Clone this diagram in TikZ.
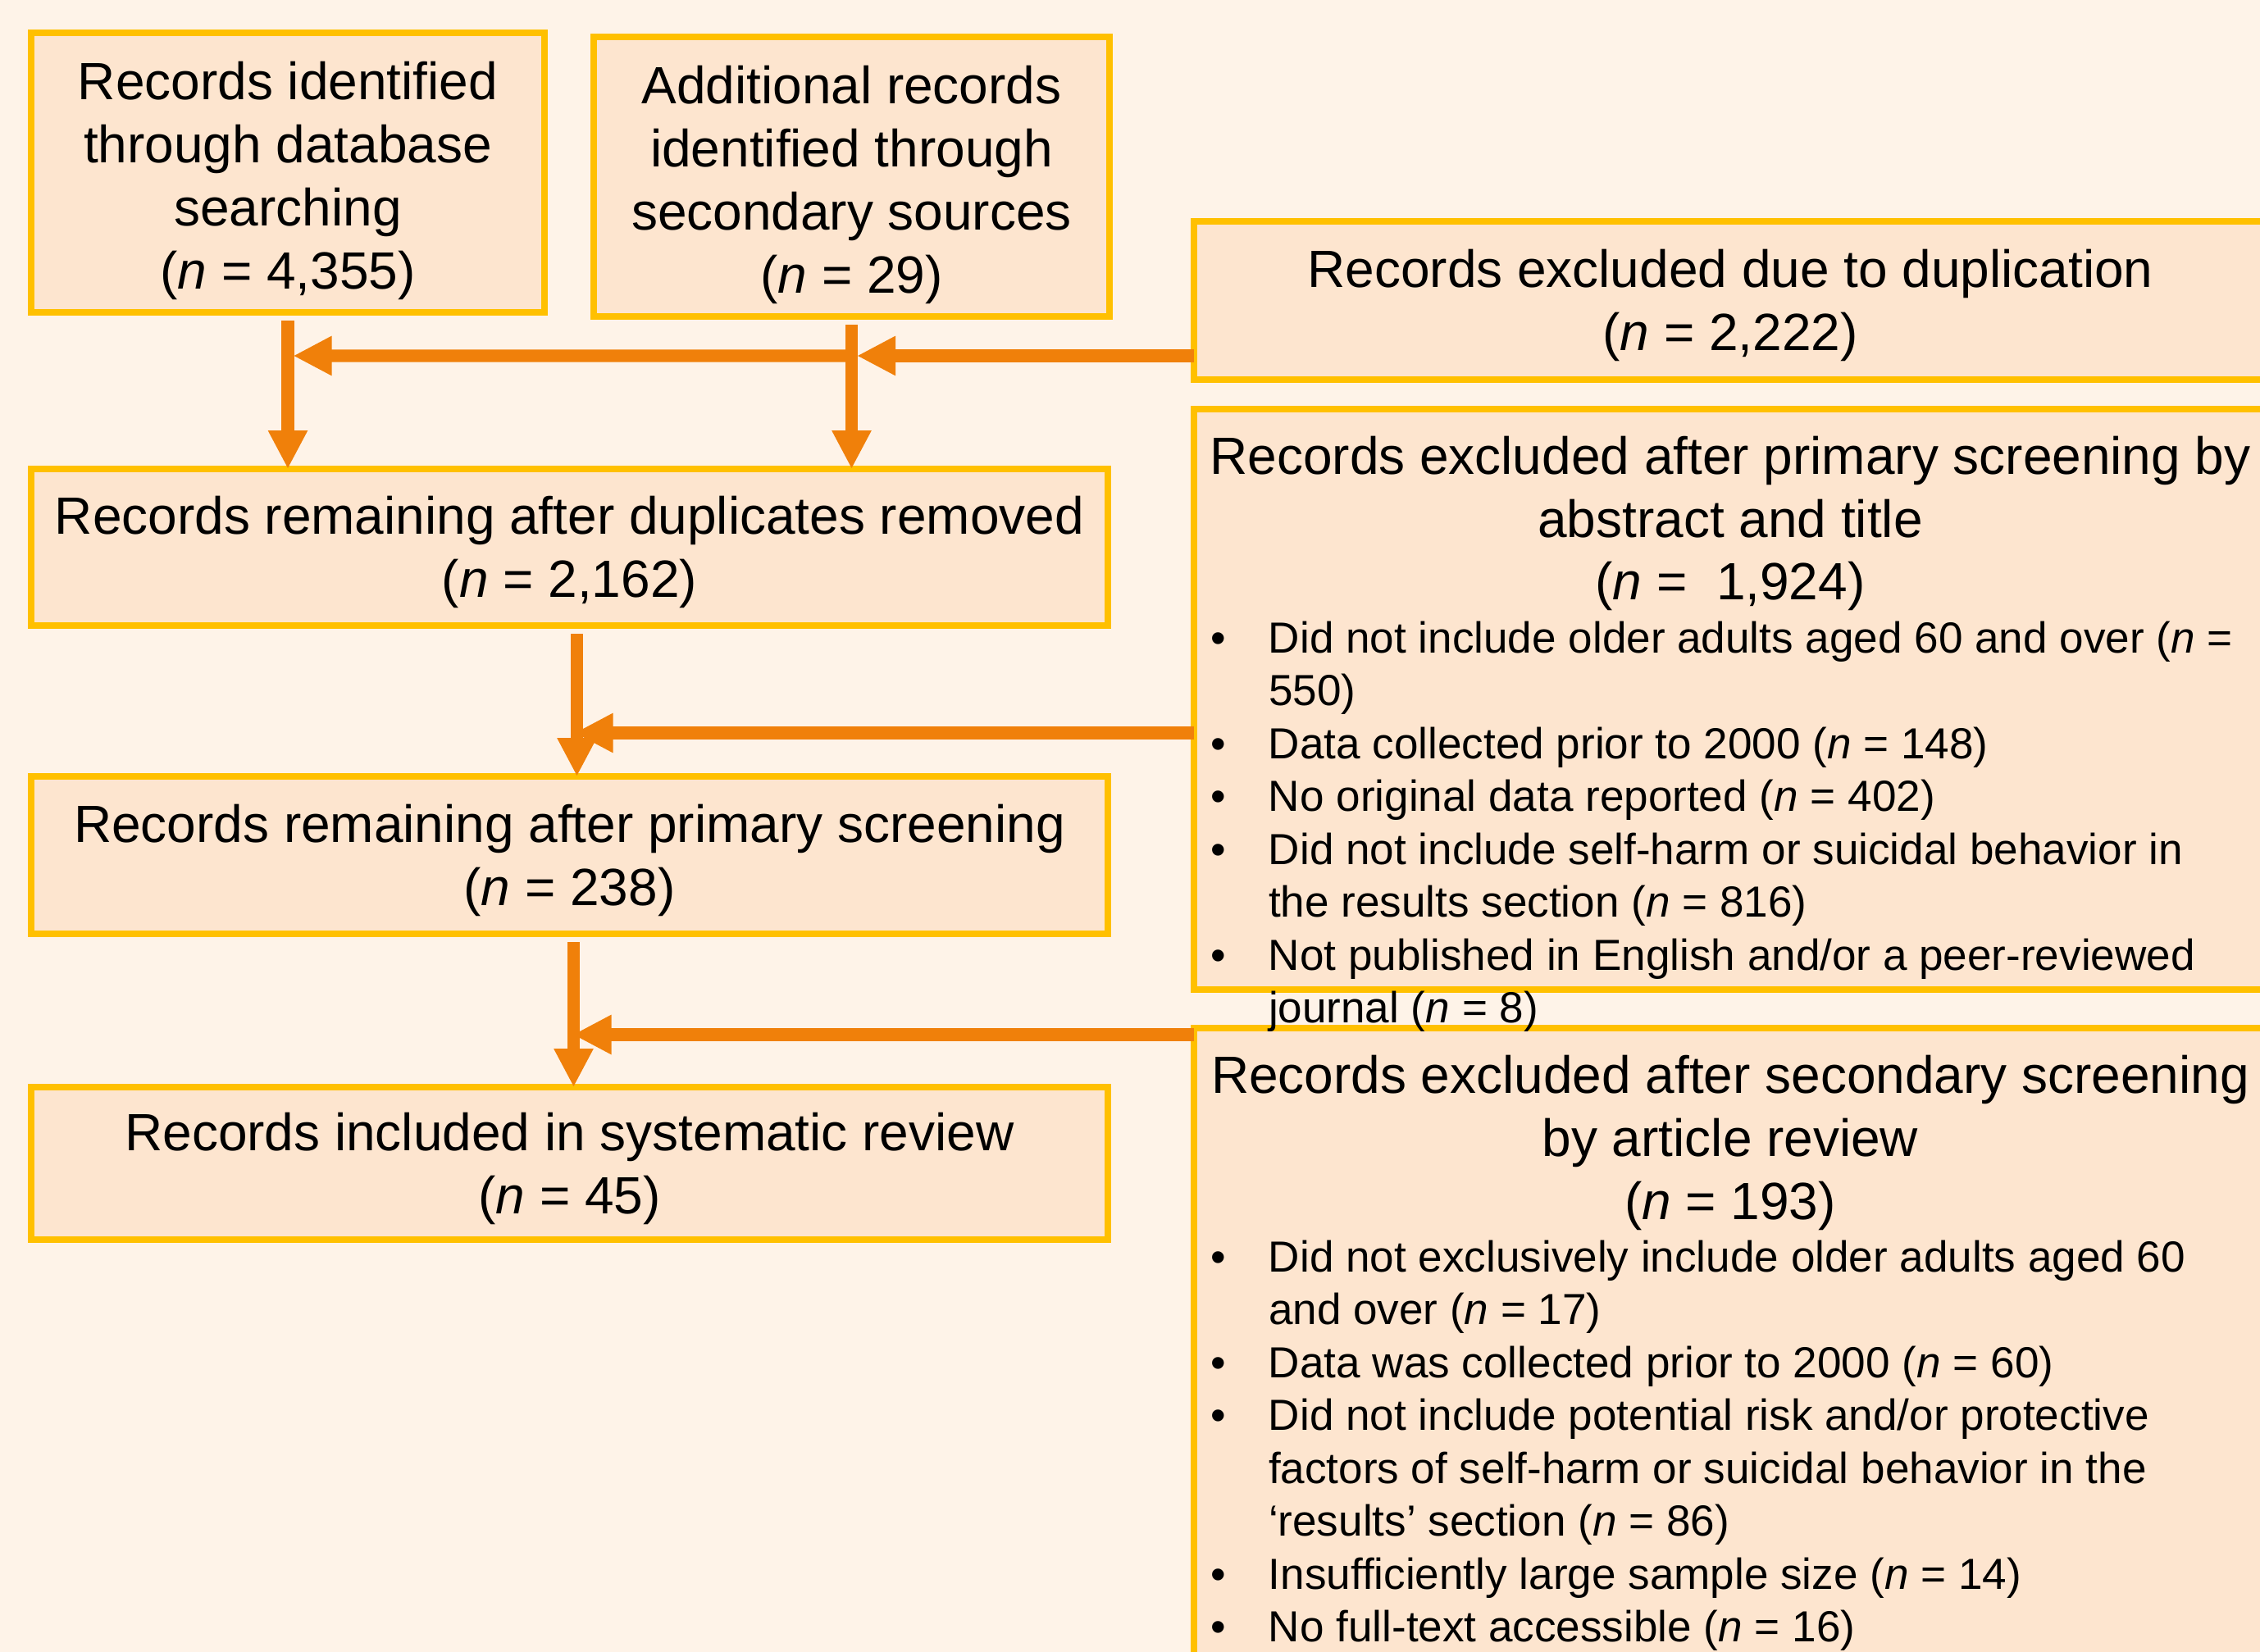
\documentclass[tikz,border=0pt]{standalone}
\usepackage{fontspec}
\setmainfont{Liberation Sans}
\usepackage{tikz}
\usetikzlibrary{arrows.meta, positioning, calc}
\definecolor{prbg}{HTML}{FEF3E8}
\definecolor{prfill}{HTML}{FDE5CF}
\definecolor{prgold}{HTML}{FFC000}
\definecolor{prorange}{HTML}{F0800A}

\newcommand{\nn}{\textit{n}}
\newcommand{\tstrut}[1][0.59cm]{\rule{0pt}{#1}}
\newcommand{\bitem}[1]{\par\hangindent=0.91cm\hangafter=1\noindent
  \hspace*{0.2cm}\makebox[0.71cm][l]{\textbullet}#1}

\begin{document}
\begin{tikzpicture}[
  box/.style={rectangle, draw=prgold, fill=prfill, line width=2.2pt,
    outer sep=0pt, inner sep=0pt, align=center,
    font=\fontsize{18.2}{21.9}\selectfont},
  listbox/.style={rectangle, draw=prgold, fill=prfill, line width=2.2pt,
    outer sep=0pt, minimum width=13.08cm},
  listtxt/.style={anchor=north, inner sep=0pt,
    font=\fontsize{18.2}{21.9}\selectfont},
  arr/.style={-{Triangle[length=0.47cm,width=0.45cm]}, line width=4.3pt,
    draw=prorange}
]
  % page
  \fill[prbg] (0,0) rectangle (27.56,-20.15);
  \useasboundingbox (0,0) rectangle (27.56,-20.15);

  % sources
  \node[box, minimum width=6.26cm, minimum height=3.41cm] (dbsearch) at (3.51,-2.105)
    {\tstrut[0.67cm]Records identified\\through database\\searching\\(\nn{} = 4,355)};
  \node[box, minimum width=6.29cm, minimum height=3.41cm,
    right=0.6cm of dbsearch.north east, anchor=north west, yshift=-0.05cm] (secsrc)
    {\tstrut[0.67cm]Additional records\\identified through\\secondary sources\\(\nn{} = 29)};

  % exclusions
  \node[box, minimum width=13.08cm, minimum height=1.93cm] (dupex) at (21.10,-3.665)
    {\tstrut Records excluded due to duplication\\(\nn{} = 2,222)};
  \node[listbox, minimum height=7.08cm, below=0.36cm of dupex] (primex) {};
  \node[listbox, minimum height=8cm, below=0.47cm of primex] (secex) {};

  \node[listtxt] (primtxt) at ([yshift=-0.32cm]primex.north) {%
    \begin{minipage}[t]{13.08cm}\centering
    Records excluded after primary screening by\\abstract and title\\(\nn{} =~~1,924)\par
    \fontsize{15.1}{18.35}\selectfont\raggedright
    \bitem{Did not include older adults aged 60 and over (\nn{} =\newline 550)}
    \bitem{Data collected prior to 2000 (\nn{} = 148)}
    \bitem{No original data reported (\nn{} = 402)}
    \bitem{Did not include self-harm or suicidal behavior in\newline the results section (\nn{} = 816)}
    \bitem{Not published in English and/or a peer-reviewed\newline journal (\nn{} = 8)}
    \end{minipage}};
  \node[listtxt] (sectxt) at ([yshift=-0.32cm]secex.north) {%
    \begin{minipage}[t]{13.08cm}\centering
    Records excluded after secondary screening\\by article review\\(\nn{} = 193)\par
    \fontsize{15.1}{18.35}\selectfont\raggedright
    \bitem{Did not exclusively include older adults aged 60\newline and over (\nn{} = 17)}
    \bitem{Data was collected prior to 2000 (\nn{} = 60)}
    \bitem{Did not include potential risk and/or protective\newline factors of self-harm or suicidal behavior in the\newline ‘results’ section (\nn{} = 86)}
    \bitem{Insufficiently large sample size (\nn{} = 14)}
    \bitem{No full-text accessible (\nn{} = 16)}
    \end{minipage}};

  % main flow
  \node[box, minimum width=13.13cm, minimum height=1.91cm,
    below=1.91cm of dbsearch.south west, anchor=north west] (remdup)
    {\tstrut Records remaining after duplicates removed\\(\nn{} = 2,162)};
  \node[box, minimum width=13.13cm, minimum height=1.92cm, below=1.84cm of remdup] (remprim)
    {\tstrut Records remaining after primary screening\\(\nn{} = 238)};
  \node[box, minimum width=13.13cm, minimum height=1.86cm, below=1.87cm of remprim] (included)
    {\tstrut Records included in systematic review\\(\nn{} = 45)};

  % arrows
  \draw[arr, shorten <=0.1cm] (dbsearch.south) -- (dbsearch.south |- remdup.north);
  \draw[arr, shorten <=0.1cm] (secsrc.south) -- (secsrc.south |- remdup.north);
  \path (dbsearch.south) ++(0.065,-0.53) coordinate (jdb);
  \path (secsrc.south) ++(0.065,-0.48) coordinate (jsec);
  \draw[arr] (dupex.west |- jsec) -- (jsec);
  \draw[arr] (jsec) -- (jdb);

  \draw[arr, shorten <=0.1cm] ([xshift=0.09cm]remdup.south) -- ([xshift=0.09cm]remprim.north);
  \path ([xshift=0.09cm]remdup.south) ++(-0.03,-1.31) coordinate (jrem);
  \draw[arr] (primex.west |- jrem) -- (jrem);

  \draw[arr, shorten <=0.1cm] ([xshift=0.05cm]remprim.south) -- ([xshift=0.05cm]included.north);
  \path ([xshift=0.05cm]remprim.south) ++(-0.01,-1.23) coordinate (jprim);
  \draw[arr] (secex.west |- jprim) -- (jprim);
\end{tikzpicture}
\end{document}
